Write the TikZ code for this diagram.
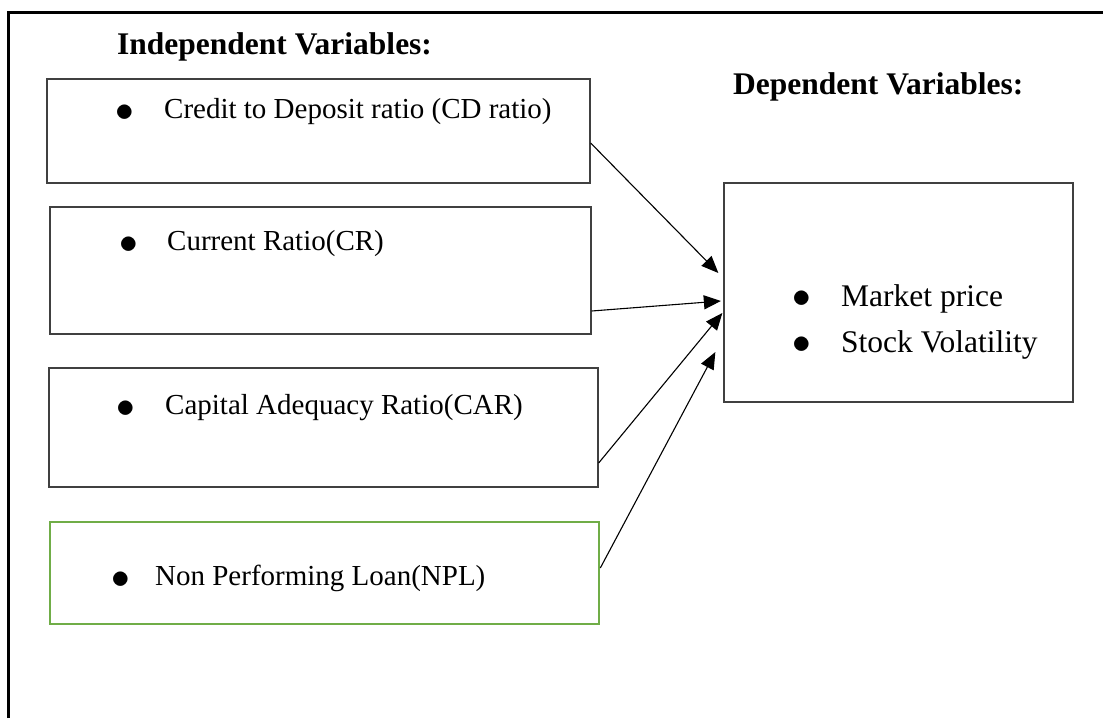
\documentclass[tikz,border=0pt]{standalone}
\usepackage{fontspec}
\setmainfont{Liberation Serif}
\usepackage{graphicx}
\usepackage{xcolor}
\usetikzlibrary{arrows.meta}
\definecolor{nplgreen}{RGB}{112,173,71}
\definecolor{boxgray}{RGB}{64,64,64}

\begin{document}
\begin{tikzpicture}[x=1pt,y=-1pt,
    varbox/.style={draw=boxgray,line width=1.3pt,inner sep=0pt},
    nplbox/.style={draw=nplgreen,line width=2.6pt,inner sep=0pt},
    item/.style={anchor=base west,inner sep=0pt,font=\fontsize{29}{34}\selectfont},
    depitem/.style={anchor=base west,inner sep=0pt,font=\fontsize{31.5}{36}\selectfont},
    head/.style={anchor=base west,inner sep=0pt,font=\fontsize{31.5}{36}\selectfont\bfseries},
    link/.style={-{Triangle[length=17pt,width=14pt]},line width=1.1pt}]
        \def\bul#1#2{\makebox[#1][l]{\raisebox{#2}{\scalebox{1.5}{$\bullet$}}}}

        \useasboundingbox (0,0) rectangle (1103,718);

        %------------------
        % frame
        %------------------

        \draw[line width=2.6pt] (8.3,718) -- (8.3,12.5) -- (1103,12.5);

        %------------------
        % headings
        %------------------

        \node[head] (indep) at (117,54) {Independent Variables:};
        \node[head] (dep-head) at (733,94) {Dependent Variables:};

        %------------------
        % boxes
        %------------------

        \node[varbox,minimum width=543pt,minimum height=104pt] (cd) at (318.5,131) {};
        \node[varbox,minimum width=541pt,minimum height=127pt] (cr) at (320.5,270.5) {};
        \node[varbox,minimum width=549pt,minimum height=119pt] (car) at (323.5,427.5) {};
        \node[nplbox,minimum width=549pt,minimum height=102pt] (npl) at (324.5,573) {};
        \node[varbox,minimum width=349pt,minimum height=219pt] (dep) at (898.5,292.5) {};

        % texts
        \node[item] (cd-text) at (115,118) {\bul{49pt}{-3pt}Credit to Deposit ratio (CD ratio)};
        \node[item] (cr-text) at (119,250) {\bul{48pt}{-3pt}Current Ratio(CR)};
        \node[item] (car-text) at (116,414) {\bul{49pt}{-3pt}Capital Adequacy Ratio(CAR)};
        \node[item] (npl-text) at (111,585) {\bul{44pt}{-3pt}Non Performing Loan(NPL)};
        \node[depitem] (price) at (792,306) {\bul{49pt}{-1pt}Market price};
        \node[depitem] (vol) at (792,352) {\bul{49pt}{-1pt}Stock Volatility};

        %------------------
        % arrows
        %------------------

        \coordinate (in1) at ([xshift=-5pt,yshift=19.5pt]dep.west);
        \coordinate (in2) at ([xshift=-2.5pt,yshift=-8.5pt]dep.west);
        \coordinate (in3) at ([xshift=-1pt,yshift=-20.5pt]dep.west);
        \coordinate (in4) at ([xshift=-8pt,yshift=-59.5pt]dep.west);

        \draw[link] ([yshift=-12pt]cd.east) -- (in1);
        \draw[link] ([yshift=-40.5pt]cr.east) -- (in2);
        \draw[link] ([yshift=-35.5pt]car.east) -- (in3);
        \draw[link] ([yshift=5pt]npl.east) -- (in4);
      \end{tikzpicture}
\end{document}
